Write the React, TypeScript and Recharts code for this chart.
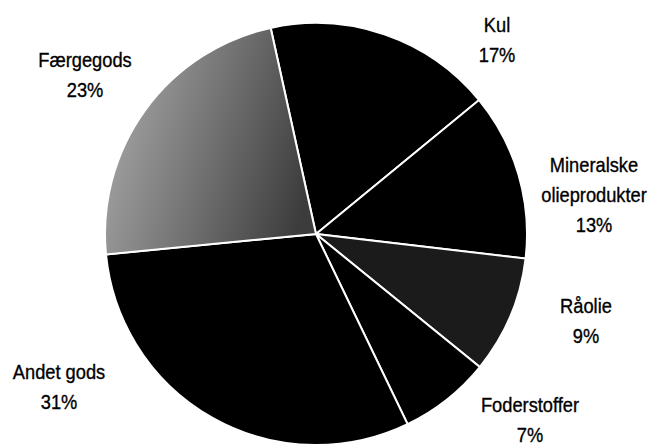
import React from 'react';
import { PieChart, Pie, Cell } from 'recharts';

// slice order runs clockwise from the top
const categories = ['Kul', 'Mineralske olieprodukter', 'Råolie', 'Foderstoffer', 'Andet gods', 'Færgegods'];
const shares = [17.5, 12.8, 9.0, 7.0, 30.6, 23.1];
// percentages as printed on the chart
const percentLabels = ['17%', '13%', '9%', '7%', '31%', '23%'];
const labelLines = [['Kul'], ['Mineralske', 'olieprodukter'], ['Råolie'], ['Foderstoffer'], ['Andet gods'], ['Færgegods']];

const labelAnchor = [
  { x: 497, y: 25 },
  { x: 594, y: 165 },
  { x: 586, y: 306 },
  { x: 530, y: 405 },
  { x: 59, y: 372 },
  { x: 85, y: 60 },
];

const fills = ['#000', '#000', '#1b1b1b', '#000', '#000', 'url(#ferryTone)'];

const data = categories.map((name, i) => ({ name, value: shares[i] }));

const LINE_GAP = 30;

const renderLabel = (props: any) => {
  const { index } = props;
  const pos = labelAnchor[index];
  const lines = [...labelLines[index], percentLabels[index]];
  return (
    <text
      key={`lbl-${index}`}
      transform={`translate(${pos.x},${pos.y}) scale(0.87,1)`}
      x={0}
      y={0}
      textAnchor="middle"
      dominantBaseline="central"
      fill="#000"
      stroke="#000"
      strokeWidth={0.35}
      fontSize={21}
      fontFamily="'Liberation Sans', Arial, sans-serif"
    >
      {lines.map((t, i) => (
        <tspan key={i} x={0} dy={i === 0 ? 0 : LINE_GAP}>
          {t}
        </tspan>
      ))}
    </text>
  );
};

export default function App() {
  const start = 102.4;
  return (
    <div style={{ position: 'absolute', left: 0, top: 0, width: 650, height: 445, background: '#fff' }}>
      <PieChart width={650} height={445} margin={{ top: 0, right: 0, bottom: 0, left: 0 }}>
        <defs>
          <linearGradient id="ferryTone" x1="0" y1="0.3" x2="1" y2="0.6">
            <stop offset="0%" stopColor="#a8a8a8" />
            <stop offset="50%" stopColor="#737373" />
            <stop offset="100%" stopColor="#3c3c3c" />
          </linearGradient>
        </defs>
        <Pie
          data={data}
          dataKey="value"
          cx={316}
          cy={234}
          outerRadius={211}
          startAngle={start}
          endAngle={start - 360}
          stroke="#fff"
          strokeWidth={2}
          label={renderLabel}
          labelLine={false}
          isAnimationActive={false}
        >
          {data.map((d, i) => (
            <Cell key={d.name} fill={fills[i]} />
          ))}
        </Pie>
      </PieChart>
    </div>
  );
}
